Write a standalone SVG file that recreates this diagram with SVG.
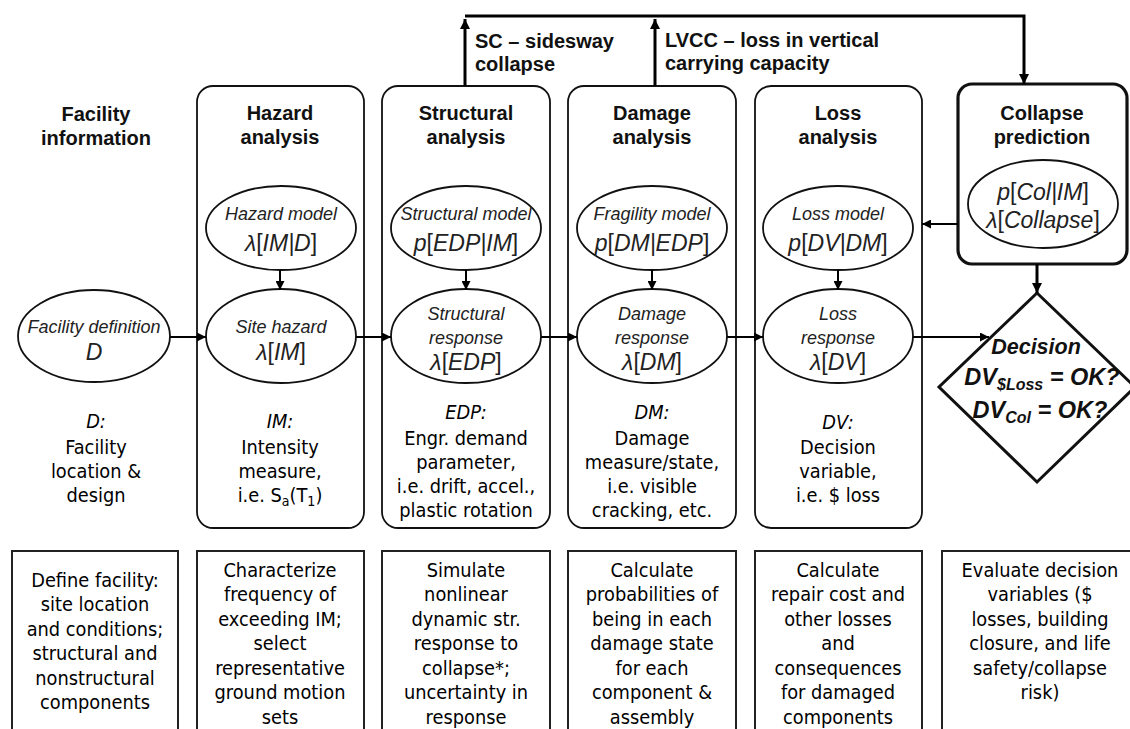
<svg xmlns="http://www.w3.org/2000/svg" width="1130" height="729" viewBox="0 0 1130 729">
<defs>
<marker id="ah" viewBox="0 0 10 10" refX="10" refY="5" markerWidth="10" markerHeight="9" markerUnits="userSpaceOnUse" orient="auto"><path d="M0,0 L10,5 L0,10 z" fill="#000"/></marker>
<marker id="ahb" viewBox="0 0 10 10" refX="10" refY="5" markerWidth="12" markerHeight="10" markerUnits="userSpaceOnUse" orient="auto"><path d="M0,0 L10,5 L0,10 z" fill="#000"/></marker>
<style>
.col{fill:#fff;stroke:#111;stroke-width:1.8}
.bot{fill:#fff;stroke:#222;stroke-width:2}
.ell{fill:#fff;stroke:#111;stroke-width:1.8}
.ttl{font-family:"Liberation Sans",Arial,sans-serif;font-weight:bold;font-size:20px;fill:#111;text-anchor:middle}
.lab{font-family:"Liberation Sans",Arial,sans-serif;font-weight:bold;font-size:20px;fill:#111}
.it{font-family:"Liberation Sans",Arial,sans-serif;font-style:italic;font-size:18px;fill:#222;text-anchor:middle}
.mt{font-family:"Liberation Sans",Arial,sans-serif;font-style:italic;font-size:23px;fill:#222;text-anchor:middle}
.u{font-style:normal}
.body{font-family:"DejaVu Sans Condensed","DejaVu Sans",sans-serif;font-stretch:condensed;font-size:19.8px;fill:#000;text-anchor:middle}
.bi{font-style:italic}
.dec{font-family:"Liberation Sans",Arial,sans-serif;font-weight:bold;font-style:italic;font-size:21.5px;fill:#111;text-anchor:middle}
.dv{font-size:23.5px}
.sub{font-size:16px}
.cn{fill:none;stroke:#000;stroke-width:2}
.cnb{fill:none;stroke:#000;stroke-width:3}
</style>
</defs>

<g id="top-labels">
<text class="lab" x="475" y="48">SC – sidesway</text>
<text class="lab" x="475" y="71">collapse</text>
<text class="lab" x="665" y="47">LVCC – loss in vertical</text>
<text class="lab" x="665" y="70">carrying capacity</text>
</g>

<g id="facility">
<text class="ttl" x="96" y="121">Facility</text>
<text class="ttl" x="96" y="145">information</text>
<ellipse class="ell" cx="94" cy="336" rx="76" ry="46"/>
<text class="it" x="94" y="333">Facility definition</text>
<text class="mt" x="94" y="360">D</text>
<text class="body" x="96" y="428"><tspan class="bi">D:</tspan></text>
<text class="body" x="96" y="454">Facility</text>
<text class="body" x="96" y="478">location &amp;</text>
<text class="body" x="96" y="502">design</text>
</g>

<g id="hazard">
<rect class="col" x="197" y="86" width="167" height="442" rx="16"/>
<text class="ttl" x="280" y="120">Hazard</text>
<text class="ttl" x="280" y="144">analysis</text>
<ellipse class="ell" cx="281" cy="228" rx="75" ry="42"/>
<text class="it" x="281" y="220">Hazard model</text>
<text class="mt" x="281" y="251">λ<tspan class="u">[</tspan>IM|D<tspan class="u">]</tspan></text>
<ellipse class="ell" cx="281" cy="336" rx="75" ry="47"/>
<text class="it" x="281" y="333">Site hazard</text>
<text class="mt" x="281" y="360">λ<tspan class="u">[</tspan>IM<tspan class="u">]</tspan></text>
<text class="body" x="280" y="428"><tspan class="bi">IM:</tspan></text>
<text class="body" x="280" y="454">Intensity</text>
<text class="body" x="280" y="478">measure,</text>
<text class="body" x="280" y="502">i.e. S<tspan font-size="14" dy="4">a</tspan><tspan dy="-4">(T</tspan><tspan font-size="14" dy="4">1</tspan><tspan dy="-4">)</tspan></text>
</g>

<g id="structural">
<rect class="col" x="382" y="86" width="168" height="442" rx="16"/>
<text class="ttl" x="466" y="120">Structural</text>
<text class="ttl" x="466" y="144">analysis</text>
<ellipse class="ell" cx="466" cy="228" rx="75" ry="42"/>
<text class="it" x="466" y="220">Structural model</text>
<text class="mt" x="466" y="251">p<tspan class="u">[</tspan>EDP|IM<tspan class="u">]</tspan></text>
<ellipse class="ell" cx="466" cy="336" rx="75" ry="47"/>
<text class="it" x="466" y="320">Structural</text>
<text class="it" x="466" y="344">response</text>
<text class="mt" x="466" y="370">λ<tspan class="u">[</tspan>EDP<tspan class="u">]</tspan></text>
<text class="body" x="466" y="419"><tspan class="bi">EDP:</tspan></text>
<text class="body" x="466" y="445">Engr. demand</text>
<text class="body" x="466" y="469">parameter,</text>
<text class="body" x="466" y="493">i.e. drift, accel.,</text>
<text class="body" x="466" y="517">plastic rotation</text>
</g>

<g id="damage">
<rect class="col" x="568" y="86" width="168" height="442" rx="16"/>
<text class="ttl" x="652" y="120">Damage</text>
<text class="ttl" x="652" y="144">analysis</text>
<ellipse class="ell" cx="652" cy="228" rx="75" ry="42"/>
<text class="it" x="652" y="220">Fragility model</text>
<text class="mt" x="652" y="251">p<tspan class="u">[</tspan>DM|EDP<tspan class="u">]</tspan></text>
<ellipse class="ell" cx="652" cy="336" rx="75" ry="47"/>
<text class="it" x="652" y="320">Damage</text>
<text class="it" x="652" y="344">response</text>
<text class="mt" x="652" y="370">λ<tspan class="u">[</tspan>DM<tspan class="u">]</tspan></text>
<text class="body" x="652" y="419"><tspan class="bi">DM:</tspan></text>
<text class="body" x="652" y="445">Damage</text>
<text class="body" x="652" y="469">measure/state,</text>
<text class="body" x="652" y="493">i.e. visible</text>
<text class="body" x="652" y="517">cracking, etc.</text>
</g>

<g id="loss">
<rect class="col" x="755" y="86" width="167" height="442" rx="16"/>
<text class="ttl" x="838" y="120">Loss</text>
<text class="ttl" x="838" y="144">analysis</text>
<ellipse class="ell" cx="838" cy="228" rx="75" ry="42"/>
<text class="it" x="838" y="220">Loss model</text>
<text class="mt" x="838" y="251">p<tspan class="u">[</tspan>DV|DM<tspan class="u">]</tspan></text>
<ellipse class="ell" cx="838" cy="336" rx="75" ry="47"/>
<text class="it" x="838" y="320">Loss</text>
<text class="it" x="838" y="344">response</text>
<text class="mt" x="838" y="370">λ<tspan class="u">[</tspan>DV<tspan class="u">]</tspan></text>
<text class="body" x="838" y="429"><tspan class="bi">DV:</tspan></text>
<text class="body" x="838" y="454">Decision</text>
<text class="body" x="838" y="478">variable,</text>
<text class="body" x="838" y="502">i.e. $ loss</text>
</g>

<g id="collapse">
<rect x="958" y="84" width="169" height="180" rx="14" fill="#fff" stroke="#111" stroke-width="3.2"/>
<text class="ttl" x="1042" y="120">Collapse</text>
<text class="ttl" x="1042" y="144">prediction</text>
<ellipse class="ell" cx="1043" cy="204" rx="75" ry="44"/>
<text class="mt" x="1043" y="200">p<tspan class="u">[</tspan>Col|IM<tspan class="u">]</tspan></text>
<text class="mt" x="1043" y="228">λ<tspan class="u">[</tspan>Collapse<tspan class="u">]</tspan></text>
</g>

<g id="decision">
<polygon points="1037,293 939,387 1037,482 1135,387" fill="#fff" stroke="#111" stroke-width="3"/>
<text class="dec" x="1036" y="354">Decision</text>
<text class="dec dv" x="1042" y="385">DV<tspan class="sub" dy="5">$Loss</tspan><tspan dy="-5"> = OK?</tspan></text>
<text class="dec dv" x="1040" y="418">DV<tspan class="sub" dy="5">Col</tspan><tspan dy="-5"> = OK?</tspan></text>
</g>

<g id="box-define">
<rect class="bot" x="12" y="551" width="166" height="190"/>
<text class="body" x="95" y="587">Define facility:</text>
<text class="body" x="95" y="611">site location</text>
<text class="body" x="95" y="636">and conditions;</text>
<text class="body" x="95" y="660">structural and</text>
<text class="body" x="95" y="685">nonstructural</text>
<text class="body" x="95" y="709">components</text>
</g>

<g id="box-characterize">
<rect class="bot" x="197" y="551" width="167" height="190"/>
<text class="body" x="280" y="577">Characterize</text>
<text class="body" x="280" y="601">frequency of</text>
<text class="body" x="280" y="626">exceeding IM;</text>
<text class="body" x="280" y="650">select</text>
<text class="body" x="280" y="675">representative</text>
<text class="body" x="280" y="699">ground motion</text>
<text class="body" x="280" y="724">sets</text>
</g>

<g id="box-simulate">
<rect class="bot" x="382" y="551" width="168" height="190"/>
<text class="body" x="466" y="577">Simulate</text>
<text class="body" x="466" y="601">nonlinear</text>
<text class="body" x="466" y="626">dynamic str.</text>
<text class="body" x="466" y="650">response to</text>
<text class="body" x="466" y="675">collapse*;</text>
<text class="body" x="466" y="699">uncertainty in</text>
<text class="body" x="466" y="724">response</text>
</g>

<g id="box-probabilities">
<rect class="bot" x="568" y="551" width="168" height="190"/>
<text class="body" x="652" y="577">Calculate</text>
<text class="body" x="652" y="601">probabilities of</text>
<text class="body" x="652" y="626">being in each</text>
<text class="body" x="652" y="650">damage state</text>
<text class="body" x="652" y="675">for each</text>
<text class="body" x="652" y="699">component &amp;</text>
<text class="body" x="652" y="724">assembly</text>
</g>

<g id="box-repair">
<rect class="bot" x="755" y="551" width="167" height="190"/>
<text class="body" x="838" y="577">Calculate</text>
<text class="body" x="838" y="601">repair cost and</text>
<text class="body" x="838" y="626">other losses</text>
<text class="body" x="838" y="650">and</text>
<text class="body" x="838" y="675">consequences</text>
<text class="body" x="838" y="699">for damaged</text>
<text class="body" x="838" y="724">components</text>
</g>

<g id="box-evaluate">
<rect class="bot" x="942" y="551" width="200" height="190"/>
<text class="body" x="1040" y="577">Evaluate decision</text>
<text class="body" x="1040" y="601">variables ($</text>
<text class="body" x="1040" y="626">losses, building</text>
<text class="body" x="1040" y="650">closure, and life</text>
<text class="body" x="1040" y="675">safety/collapse</text>
<text class="body" x="1040" y="699">risk)</text>
</g>

<g id="connectors">
<path class="cnb" d="M465,86 V19" marker-end="url(#ahb)"/>
<path class="cnb" d="M655,86 V19" marker-end="url(#ahb)"/>
<path class="cnb" d="M465,16 H1024 V84" marker-end="url(#ahb)"/>
<path class="cn" d="M170,337 H206" marker-end="url(#ah)"/>
<path class="cn" d="M356,337 H391" marker-end="url(#ah)"/>
<path class="cn" d="M541,337 H577" marker-end="url(#ah)"/>
<path class="cn" d="M727,337 H763" marker-end="url(#ah)"/>
<path class="cn" d="M913,337 H989" marker-end="url(#ah)"/>
<path class="cn" d="M280,270 V290" marker-end="url(#ah)"/>
<path class="cn" d="M466,270 V290" marker-end="url(#ah)"/>
<path class="cn" d="M652,270 V290" marker-end="url(#ah)"/>
<path class="cn" d="M838,270 V290" marker-end="url(#ah)"/>
<path class="cn" d="M958,224 H922" marker-end="url(#ah)"/>
<path class="cnb" d="M1037,264 V293" marker-end="url(#ahb)"/>
</g>
</svg>
